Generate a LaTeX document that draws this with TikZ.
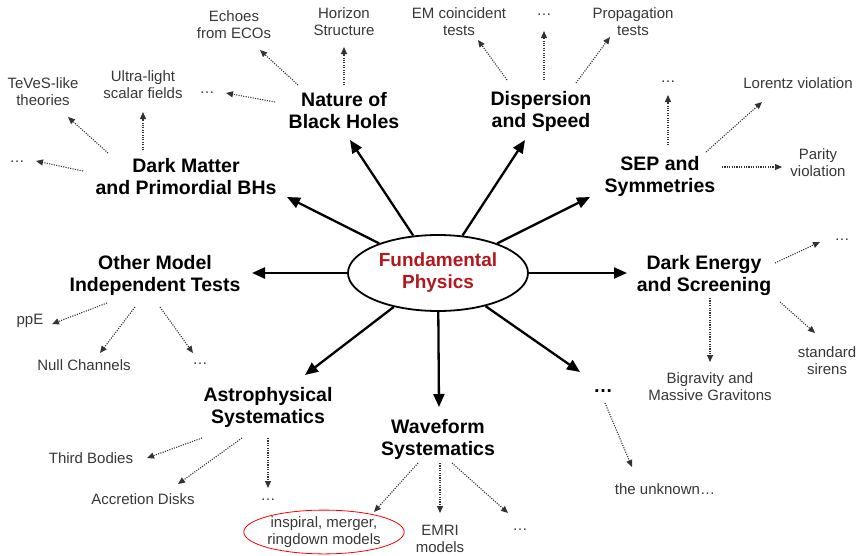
\documentclass[tikz,border=0pt]{standalone}
\usepackage{fontspec}
\setmainfont{Liberation Sans}
\usetikzlibrary{shapes.geometric,arrows.meta,calc}
\definecolor{fpred}{RGB}{178,24,30}
\definecolor{txt}{RGB}{55,55,55}
\begin{document}
\begin{tikzpicture}[x=1pt,y=-1pt,
 main/.style={font=\fontsize{19.5}{22}\selectfont\bfseries, align=center, inner sep=1pt, text=black},
 sub/.style={font=\fontsize{15}{17}\selectfont, align=center, inner sep=1pt, text=txt},
 big/.style={line width=2.3pt, -{Triangle[length=13pt,width=11pt]}},
 dotarr/.style={line width=1.1pt, dash pattern=on 1.1pt off 1.3pt, draw=black!80, -{Triangle[length=7pt,width=6pt]}}]
\useasboundingbox (0,0) rectangle (860,555);

% centre
\node[ellipse, draw, line width=1.8pt, minimum width=180pt, minimum height=76pt, inner sep=0pt,
      font=\fontsize{19}{22}\selectfont\bfseries, text=fpred, align=center] (fp) at (438,273) {Fundamental\\Physics};

% main topics
\node[main] (nbh)   at (344,111) {Nature of\\Black Holes};
\node[main] (disp)  at (541,111) {Dispersion\\and Speed};
\node[main] (sep)   at (660,176) {SEP and\\Symmetries};
\node[main] (de)    at (704,275) {Dark Energy\\and Screening};
\node[main] (more)  at (603,391) {…};
\node[main] (wf)    at (438,439) {Waveform\\Systematics};
\node[main] (astro) at (268,407) {Astrophysical\\Systematics};
\node[main] (omit)  at (155,275) {Other Model\\Independent Tests};
\node[main] (dm)    at (186,177) {Dark Matter\\and Primordial BHs};

% sub topics
\node[sub] (echo)      at (234,25)  {Echoes\\from ECOs};
\node[sub] (hor)       at (344,22)  {Horizon\\Structure};
\node[sub] (nbhdots)   at (207,93)  {…};
\node[sub] (ultra)     at (143,85)  {Ultra-light\\scalar fields};
\node[sub] (teves)     at (43,92)   {TeVeS-like\\theories};
\node[sub] (dmdots)    at (17,162)  {…};
\node[sub] (emc)       at (459,22)  {EM coincident\\tests};
\node[sub] (dispdots)  at (544,15)  {…};
\node[sub] (prop)      at (633,22)  {Propagation\\tests};
\node[sub] (sepdots)   at (668,82)  {…};
\node[sub] (lor)       at (798,83)  {Lorentz violation};
\node[sub] (par)       at (818,163) {Parity\\violation};
\node[sub] (dedots)    at (842,240) {…};
\node[sub] (sirens)    at (827,361) {standard\\sirens};
\node[sub] (bigr)      at (710,387) {Bigravity and\\Massive Gravitons};
\node[sub] (unk)       at (665,489) {the unknown…};
\node[sub, ellipse, draw=red, line width=0.8pt, minimum width=152pt, minimum height=42pt, inner sep=0pt] (insp) at (324,532) {inspiral, merger,\\ringdown models};
\node[sub] (emri)      at (440,539) {EMRI\\models};
\node[sub] (wfdots)    at (520,530) {…};
\node[sub] (third)     at (91,458)  {Third Bodies};
\node[sub] (accr)      at (143,499) {Accretion Disks};
\node[sub] (astrodots) at (268,500) {…};
\node[sub] (ppe)       at (30,321)  {ppE};
\node[sub] (null)      at (84,365)  {Null Channels};
\node[sub] (omdots)    at (200,364) {…};

% thick arrows
\draw[big] (fp) -- ($(nbh)+(6,29)$);
\draw[big] (fp) -- ($(disp)+(-16,29)$);
\draw[big] (fp) -- ($(sep)+(-70,21)$);
\draw[big] (fp) -- ($(de)+(-77,-2)$);
\draw[big] (fp) -- ($(more)+(-23,-19)$);
\draw[big] (fp) -- ($(wf)+(1,-32)$);
\draw[big] (fp) -- ($(astro)+(37,-32)$);
\draw[big] (fp) -- ($(omit)+(97,-2)$);
\draw[big] (fp) -- ($(dm)+(101,20)$);

% dotted arrows
\draw[dotarr] ($(nbh)+(-46,-26)$) -- ($(echo)+(26,25)$);
\draw[dotarr] ($(nbh)+(0,-26)$) -- ($(hor)+(0,25)$);
\draw[dotarr] ($(nbh)+(-69,-9)$) -- ($(nbhdots)+(19,0)$);
\draw[dotarr] ($(dm)+(-43,-27)$) -- ($(ultra)+(0,27)$);
\draw[dotarr] ($(dm)+(-78,-24)$) -- ($(teves)+(25,25)$);
\draw[dotarr] ($(dm)+(-103,-6)$) -- ($(dmdots)+(19,-1)$);
\draw[dotarr] ($(disp)+(-34,-31)$) -- ($(emc)+(19,18)$);
\draw[dotarr] ($(disp)+(3,-31)$) -- ($(dispdots)+(0,16)$);
\draw[dotarr] ($(disp)+(35,-28)$) -- ($(prop)+(-23,15)$);
\draw[dotarr] ($(sep)+(8,-31)$) -- ($(sepdots)+(0,13)$);
\draw[dotarr] ($(sep)+(46,-24)$) -- ($(lor)+(-36,19)$);
\draw[dotarr] ($(sep)+(62,-9)$) -- ($(par)+(-36,4)$);
\draw[dotarr] ($(de)+(71,-12)$) -- ($(dedots)+(-22,2)$);
\draw[dotarr] ($(de)+(76,27)$) -- ($(sirens)+(-12,-28)$);
\draw[dotarr] ($(de)+(6,23)$) -- ($(bigr)+(0,-25)$);
\draw[dotarr] ($(more)+(2,12)$) -- ($(unk)+(-33,-22)$);
\draw[dotarr] ($(wf)+(-20,24)$) -- ($(insp)+(50,-20)$);
\draw[dotarr] ($(wf)+(2,24)$) -- ($(emri)+(0,-26)$);
\draw[dotarr] ($(wf)+(14,24)$) -- ($(wfdots)+(-12,-17)$);
\draw[dotarr] ($(astro)+(-66,31)$) -- ($(third)+(56,0)$);
\draw[dotarr] ($(astro)+(-26,31)$) -- ($(accr)+(35,-15)$);
\draw[dotarr] ($(astro)+(0,31)$) -- ($(astrodots)+(0,-12)$);
\draw[dotarr] ($(omit)+(-48,28)$) -- ($(ppe)+(22,3)$);
\draw[dotarr] ($(omit)+(-20,32)$) -- ($(null)+(16,-12)$);
\draw[dotarr] ($(omit)+(5,32)$) -- ($(omdots)+(-7,-11)$);
\end{tikzpicture}
\end{document}
